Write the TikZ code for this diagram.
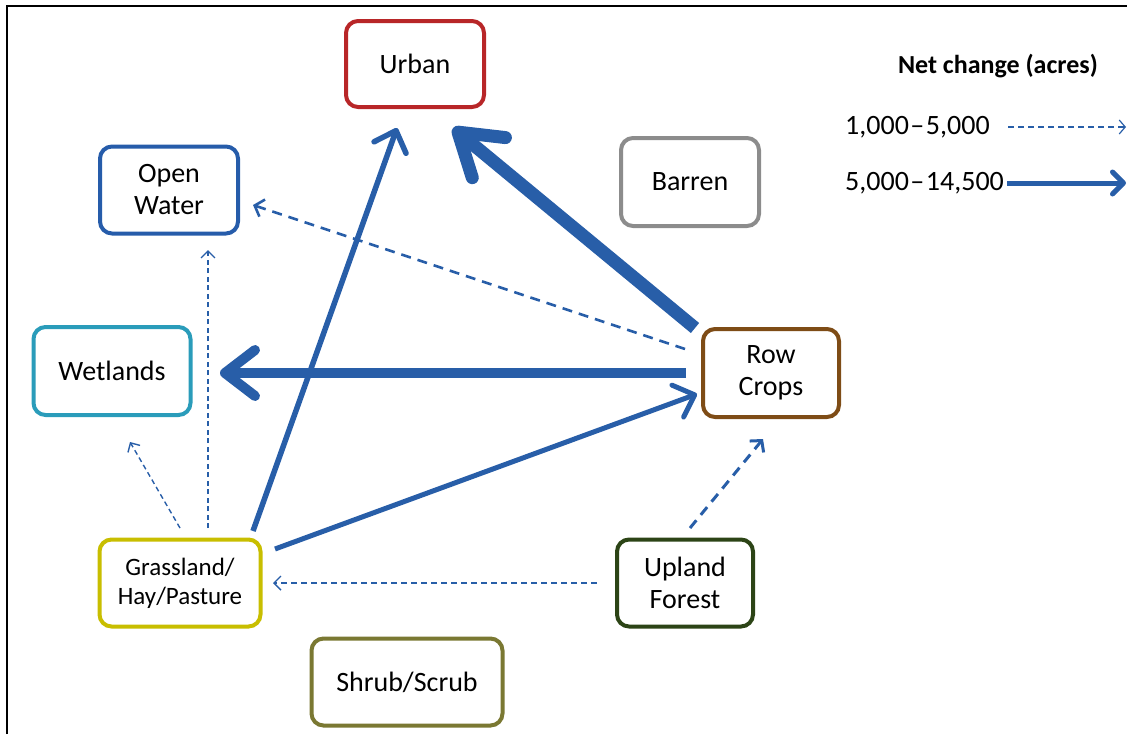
\documentclass[tikz,border=0pt]{standalone}
\usepackage{fontspec}
\setmainfont{Carlito}
\usetikzlibrary{arrows.meta,calc}
\definecolor{flow}{RGB}{40,94,168}
\definecolor{urbanc}{RGB}{184,38,40}
\definecolor{waterc}{RGB}{38,92,170}
\definecolor{barrenc}{RGB}{140,140,140}
\definecolor{wetc}{RGB}{42,156,186}
\definecolor{rowc}{RGB}{126,76,22}
\definecolor{grassc}{RGB}{200,190,0}
\definecolor{uplandc}{RGB}{44,68,22}
\definecolor{shrubc}{RGB}{122,120,50}
\begin{document}
\begin{tikzpicture}[x=1pt,y=-1pt,
  box/.style={draw, line width=4pt, rounded corners=12pt, fill=white, align=center,
    inner sep=0pt, font=\fontsize{28}{32}\selectfont},
  thindash/.style={draw=flow, line width=1.4pt, dash pattern=on 5pt off 3.5pt,
    -{Straight Barb[length=7pt,width=14pt]}},
  middash/.style={draw=flow, line width=2.6pt, dash pattern=on 10pt off 7pt,
    -{Straight Barb[length=8pt,width=18pt]}},
  solidflow/.style={draw=flow, line width=5.5pt,
    -{Straight Barb[length=18pt,width=34pt,line cap=round,line join=round]}},
  bigflow/.style={draw=flow, line width=10pt,
    -{Straight Barb[length=30pt,width=46pt,line cap=round,line join=round]}},
  hugeflow/.style={draw=flow, line width=13pt,
    -{Straight Barb[length=40pt,width=52pt,line cap=round,line join=round]}},
  legtext/.style={anchor=west, inner sep=0pt, font=\fontsize{28}{32}\selectfont}
]
\useasboundingbox (0,0) rectangle (1127,734);
\draw[line width=2pt] (7,734) -- (7,6) -- (1127,6);

% nodes
\node[box, draw=urbanc, minimum width=138pt, minimum height=86pt] (urban) at (415,64) {Urban};
\node[box, draw=waterc, minimum width=138pt, minimum height=87pt] (water) at (169,190) {Open\\Water};
\node[box, draw=barrenc, minimum width=138pt, minimum height=88pt] (barren) at (690,182) {Barren};
\node[box, draw=wetc, minimum width=157pt, minimum height=88pt] (wet) at (112,371) {Wetlands};
\node[box, draw=rowc, minimum width=136pt, minimum height=88pt] (row) at (771,373) {Row\\Crops};
\node[box, draw=grassc, minimum width=161pt, minimum height=87pt, font=\fontsize{25}{29}\selectfont] (grass) at (180,583) {Grassland/\\Hay/Pasture};
\node[box, draw=uplandc, minimum width=136pt, minimum height=87pt] (upland) at (685,583) {Upland\\Forest};
\node[box, draw=shrubc, minimum width=191pt, minimum height=87pt] (shrub) at (407,682) {Shrub/Scrub};

% connectors
\draw[middash] ([shift={(-86,-24)}]row.center) -- ([shift={(84,15)}]water.center);
\draw[thindash] ([shift={(28,-55)}]grass.center) -- ([shift={(39,60)}]water.center);
\draw[thindash] ([shift={(0,-55)}]grass.center) -- ([shift={(18,71)}]wet.center);
\draw[thindash, dash pattern=on 6pt off 4pt] ([shift={(-88,0)}]upland.center) -- ([shift={(93,0)}]grass.center);
\draw[middash, line width=3pt] ([shift={(5,-55)}]upland.center) -- ([shift={(-8,66)}]row.center);
\draw[bigflow] ([shift={(-85,0)}]row.center) -- ([shift={(108,2)}]wet.center);
\draw[solidflow] ([shift={(73,-52)}]grass.center) -- ([shift={(-18,64)}]urban.center);
\draw[solidflow, line width=5pt] ([shift={(95,-34)}]grass.center) -- ([shift={(-74,21)}]row.center);
\draw[hugeflow] ([shift={(-76,-45)}]row.center) -- ([shift={(38,64)}]urban.center);

% legend
\node[font=\bfseries\fontsize{26}{30}\selectfont] (title) at (998,66) {Net change (acres)};
\node[legtext] (leg1) at (845,127) {1,000\kern1.5pt–\kern1.5pt5,000};
\node[legtext] (leg2) at (845,183) {5,000\kern1.5pt–\kern1.5pt14,500};
\coordinate (l1s) at (1008,127);
\coordinate (l1e) at (1126,127);
\coordinate (l2s) at (1007,183);
\coordinate (l2e) at (1126,183);
\draw[thindash, line width=1.2pt, dash pattern=on 6pt off 4pt, -{Straight Barb[length=6pt,width=14pt]}] (l1s) -- (l1e);
\draw[draw=flow, line width=5pt, -{Straight Barb[length=11pt,width=22pt,line cap=round,line join=round]}] (l2s) -- (l2e);
\end{tikzpicture}
\end{document}
